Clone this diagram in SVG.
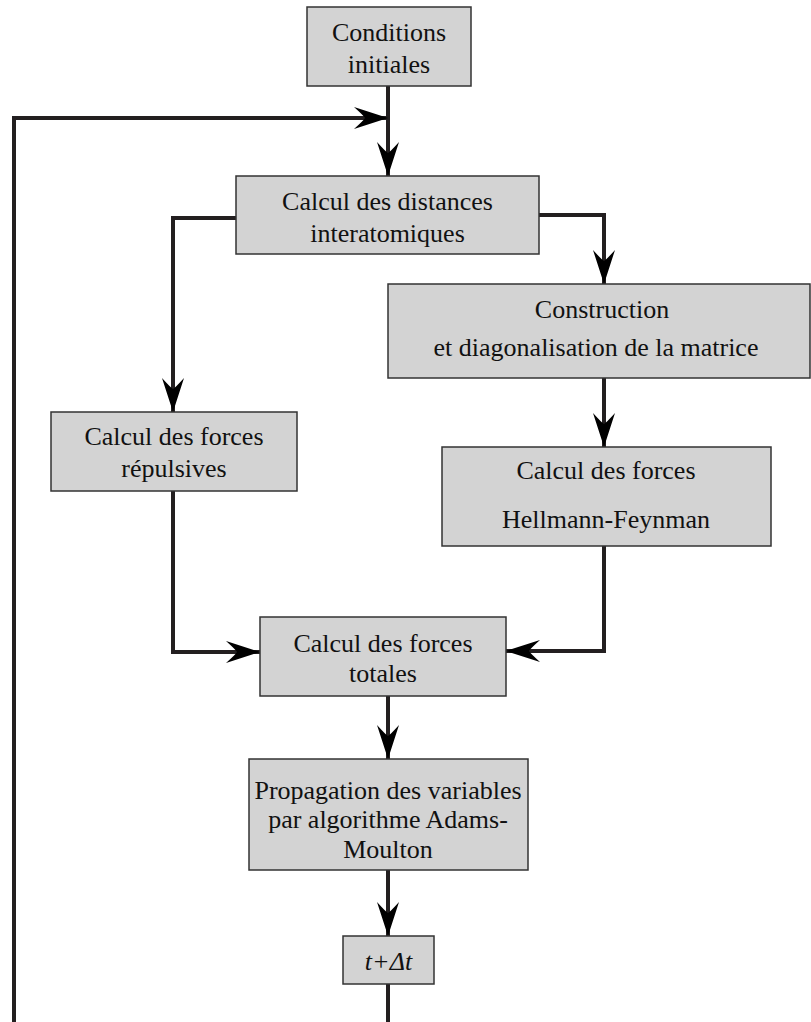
<svg xmlns="http://www.w3.org/2000/svg" width="811" height="1022" viewBox="0 0 811 1022">
<style>
.box{fill:#d3d3d3;stroke:#333;stroke-width:1.5}
.t{font-family:"Liberation Serif","Times New Roman",serif;font-size:26px;fill:#111;text-anchor:middle}
.c{fill:none;stroke:#231f20;stroke-width:4;stroke-linejoin:miter}
</style>
<defs>
<marker id="ah" markerUnits="userSpaceOnUse" markerWidth="40" markerHeight="30" viewBox="-36 -15 40 30" refX="0" refY="0" orient="auto" overflow="visible">
<path d="M0,0 L-34,-11 Q-24,-2 -23,0 Q-24,2 -34,11 Z" fill="#000"/>
</marker>
</defs>
<rect width="811" height="1022" fill="#fff"/>
<g id="connectors">
<path class="c" d="M388,86 V176" marker-end="url(#ah)"/>
<path class="c" d="M388,984 V1024"/>
<path class="c" d="M14,1024 V118 H388" marker-end="url(#ah)"/>
<path class="c" d="M236,218 H173 V412" marker-end="url(#ah)"/>
<path class="c" d="M539,215 H604 V284" marker-end="url(#ah)"/>
<path class="c" d="M604,378 V447" marker-end="url(#ah)"/>
<path class="c" d="M173,491 V652 H260" marker-end="url(#ah)"/>
<path class="c" d="M604,546 V651 H506" marker-end="url(#ah)"/>
<path class="c" d="M388,696 V759" marker-end="url(#ah)"/>
<path class="c" d="M388,870 V936" marker-end="url(#ah)"/>
</g>
<g id="n1">
<rect class="box" x="307" y="7" width="164" height="79"/>
<text class="t" x="389" y="41">Conditions</text>
<text class="t" x="389" y="73">initiales</text>
</g>
<g id="n2">
<rect class="box" x="236" y="176" width="303" height="78"/>
<text class="t" x="387.5" y="210">Calcul des distances</text>
<text class="t" x="387.5" y="242">interatomiques</text>
</g>
<g id="n3">
<rect class="box" x="51" y="412" width="246" height="79"/>
<text class="t" x="174" y="445">Calcul des forces</text>
<text class="t" x="174" y="477">répulsives</text>
</g>
<g id="n4">
<rect class="box" x="388" y="284" width="422" height="94"/>
<text class="t" x="602" y="318">Construction</text>
<text class="t" x="596" y="356">et diagonalisation de la matrice</text>
</g>
<g id="n5">
<rect class="box" x="442" y="447" width="329" height="99"/>
<text class="t" x="606" y="479">Calcul des forces</text>
<text class="t" x="606" y="528">Hellmann-Feynman</text>
</g>
<g id="n6">
<rect class="box" x="260" y="617" width="246" height="79"/>
<text class="t" x="383" y="652">Calcul des forces</text>
<text class="t" x="383" y="682">totales</text>
</g>
<g id="n7">
<rect class="box" x="249" y="759" width="279" height="111"/>
<text class="t" x="388" y="799">Propagation des variables</text>
<text class="t" x="388" y="828">par algorithme Adams-</text>
<text class="t" x="388" y="858">Moulton</text>
</g>
<g id="n8">
<rect class="box" x="343" y="936" width="91" height="48"/>
<text class="t" x="388.5" y="970" font-style="italic">t+Δt</text>
</g>
</svg>
